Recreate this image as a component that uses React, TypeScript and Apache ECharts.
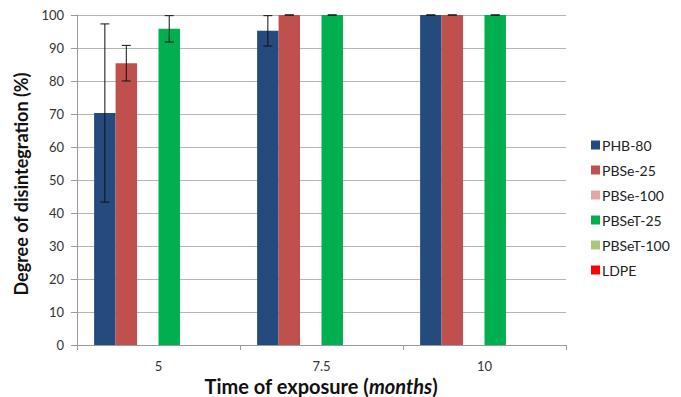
import React, { useEffect, useRef } from "react";
import * as echarts from "echarts";

// Exposure times (months)
const categories = ["5", "7.5", "10"];

// Degree of disintegration (%) per sample, and standard deviations
const phb80 = [70.3, 95.2, 100];
const phb80Err = [27.0, 4.6, 0];
const pbse25 = [85.4, 100, 100];
const pbse25Err = [5.4, 0, 0];
const pbse100: (number | null)[] = [null, null, null];
const pbset25 = [95.8, 100, 100];
const pbset25Err = [4.0, 0, 0];
const pbset100: (number | null)[] = [null, null, null];
const ldpe: (number | null)[] = [null, null, null];

const yTicks = [0, 10, 20, 30, 40, 50, 60, 70, 80, 90, 100];

const seriesNames = ["PHB-80", "PBSe-25", "PBSe-100", "PBSeT-25", "PBSeT-100", "LDPE"];
const seriesColors = ["#254A7E", "#C0504D", "#E2A6A4", "#00B050", "#A9C97A", "#FF0000"];
const seriesValues = [phb80, pbse25, pbse100, pbset25, pbset100, ldpe];

const CAT_GAP = 0.21;
const N_BARS = seriesNames.length;
const FONT = "Lato, 'Liberation Sans', sans-serif";

function errorSeries(idx: number, values: number[], errs: number[]) {
  return {
    type: "custom",
    name: "err-" + seriesNames[idx],
    z: 10,
    silent: true,
    clip: false,
    encode: { x: 0, y: 1 },
    data: values.map((v, i) => [i, v, errs[i]]),
    renderItem: (params: any, api: any) => {
      const cat = api.value(0);
      const v = api.value(1);
      const e = api.value(2);
      const band = api.size([1, 0])[0];
      const groupW = band * (1 - CAT_GAP);
      const barW = groupW / N_BARS;
      const x = api.coord([cat, 0])[0] - groupW / 2 + barW * (idx + 0.5);
      const yTop = api.coord([cat, Math.min(100, v + e)])[1];
      const yBot = api.coord([cat, v - e])[1];
      const cap = 4.5;
      const style = { stroke: "#111", lineWidth: 1 };
      return {
        type: "group",
        children: [
          { type: "line", shape: { x1: x, y1: yTop, x2: x, y2: yBot }, style },
          { type: "line", shape: { x1: x - cap, y1: yTop, x2: x + cap, y2: yTop }, style },
          { type: "line", shape: { x1: x - cap, y1: yBot, x2: x + cap, y2: yBot }, style },
        ],
      };
    },
  };
}

export default function App() {
  const ref = useRef<HTMLDivElement>(null);

  useEffect(() => {
    if (!ref.current) return;
    const chart = echarts.init(ref.current, null, { renderer: "svg" });
    const bars = seriesNames.map((name, i) => ({
      type: "bar",
      name,
      data: seriesValues[i],
      itemStyle: { color: seriesColors[i] },
      barGap: "0%",
      barCategoryGap: (CAT_GAP * 100).toFixed(0) + "%",
    }));
    chart.setOption({
      animation: false,
      textStyle: { fontFamily: FONT },
      grid: { left: 77, right: 115, top: 15, bottom: 52, outerBoundsMode: "none", containLabel: false },
      legend: {
        data: seriesNames,
        orient: "vertical",
        left: 586,
        top: 133,
        itemWidth: 9,
        itemHeight: 9,
        itemGap: 11,
        icon: "rect",
        textStyle: { fontSize: 14, color: "#222", fontFamily: FONT, padding: [0, 0, 0, -3] },
      },
      // x-axis title, with the unit in italics
      graphic: [
        {
          type: "text",
          x: 321,
          y: 386,
          style: {
            text: "{b|Time of exposure (}{i|months}{b|)}",
            align: "center",
            verticalAlign: "middle",
            rich: {
              b: { fontSize: 20, lineHeight: 20, fontWeight: "bold", fill: "#111", fontFamily: FONT },
              i: { fontSize: 20, lineHeight: 20, fontWeight: "bold", fontStyle: "italic", fill: "#111", fontFamily: FONT },
            },
          },
        },
      ],
      xAxis: {
        type: "category",
        data: categories,
        axisLine: { lineStyle: { color: "#9a9a9a" } },
        axisTick: { show: true, length: 5, alignWithLabel: false, lineStyle: { color: "#9a9a9a" } },
        axisLabel: { fontSize: 13, color: "#333", margin: 14 },
      },
      yAxis: {
        type: "value",
        min: yTicks[0],
        max: yTicks[yTicks.length - 1],
        interval: yTicks[1] - yTicks[0],
        axisLine: { show: true, lineStyle: { color: "#9a9a9a" } },
        axisTick: { show: true, length: 6, lineStyle: { color: "#9a9a9a" } },
        axisLabel: { fontSize: 13, color: "#333", margin: 13 },
        splitLine: { lineStyle: { color: "#b4b4b4" } },
        name: "Degree of disintegration (%)",
        nameLocation: "middle",
        nameGap: 45,
        nameTextStyle: { fontSize: 18, fontWeight: "bold", color: "#111", fontFamily: FONT, padding: [0, 8, 0, 0] },
      },
      series: [
        ...bars,
        errorSeries(0, phb80, phb80Err),
        errorSeries(1, pbse25, pbse25Err),
        errorSeries(3, pbset25, pbset25Err),
      ],
    });
    return () => chart.dispose();
  }, []);

  return <div ref={ref} style={{ width: 681, height: 397, position: "absolute", left: 0, top: 0, background: "#fff" }} />;
}
